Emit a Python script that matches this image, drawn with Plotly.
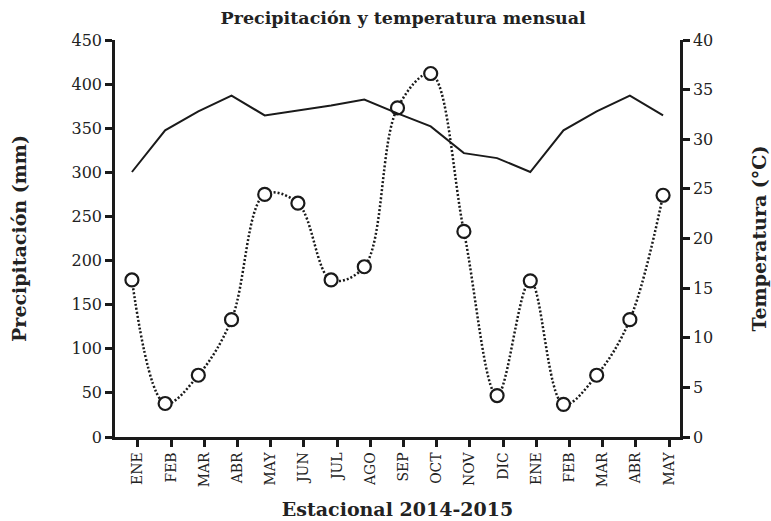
import plotly.graph_objects as go

months = ["ENE", "FEB", "MAR", "ABR", "MAY", "JUN", "JUL", "AGO", "SEP", "OCT",
          "NOV", "DIC", "ENE", "FEB", "MAR", "ABR", "MAY"]
precip_mm = [178, 38, 70, 133, 275, 265, 178, 193, 373, 412,
             233, 47, 177, 37, 70, 133, 274]
temp_c = [26.7, 30.9, 32.8, 34.4, 32.4, 32.9, 33.4, 34.0, 32.6, 31.3,
          28.6, 28.1, 26.7, 30.9, 32.8, 34.4, 32.4]

FONT = "DejaVu Serif"
x = list(range(len(months)))
tick_pos = [i + 0.18 for i in x]

fig = go.Figure()
fig.add_trace(go.Scatter(
    x=x, y=temp_c, yaxis="y2", mode="lines",
    line=dict(color="#1a1a1a", width=2), name="Temperatura", showlegend=False))
fig.add_trace(go.Scatter(
    x=x, y=precip_mm, mode="lines+markers",
    line=dict(color="#1a1a1a", width=2.5, dash="2px,2px", shape="spline", smoothing=1.0),
    marker=dict(symbol="circle", size=13, color="white",
                line=dict(color="#1a1a1a", width=2.2)),
    name="Precipitación", showlegend=False))

axis_common = dict(showline=True, linecolor="#1a1a1a", linewidth=2.5,
                   ticks="outside", ticklen=7, tickwidth=2.5, tickcolor="#1a1a1a",
                   showgrid=False, zeroline=False, automargin=False,
                   tickfont=dict(family=FONT, size=16, color="#222"))

fig.update_layout(
    width=771, height=521,
    margin=dict(l=115, r=91, t=40, b=84),
    plot_bgcolor="white", paper_bgcolor="white",
    title=dict(text="<b>Precipitación y temperatura mensual</b>",
               font=dict(family=FONT, size=17.5, color="#222"),
               x=0.51, xref="paper", xanchor="center", y=0.977, yanchor="top"),
    xaxis=dict(range=[-0.51, 16.51], tickmode="array", tickvals=tick_pos,
               ticktext=months, tickangle=-90,
               title=dict(text="<b>Estacional 2014-2015</b>",
                          font=dict(family=FONT, size=19, color="#222"), standoff=17),
               **{**axis_common, "tickfont": dict(family=FONT, size=14, color="#222")}),
    yaxis=dict(range=[0, 450], tickmode="linear", tick0=0, dtick=50,
               title=dict(text="<b>Precipitación (mm)</b>",
                          font=dict(family=FONT, size=19, color="#222"), standoff=40),
               **axis_common),
    yaxis2=dict(range=[0, 40], tickmode="linear", tick0=0, dtick=5,
                overlaying="y", side="right",
                title=dict(text="<b>Temperatura (°C)</b>",
                           font=dict(family=FONT, size=19, color="#222"), standoff=41),
                **axis_common),
)

fig.write_html("out.html", config={"displayModeBar": False})
with open("out.html", encoding="utf-8") as f:
    html = f.read()
html = html.replace("<head>", "<head><style>html,body{margin:0;padding:0;}</style>", 1)
with open("out.html", "w", encoding="utf-8") as f:
    f.write(html)
